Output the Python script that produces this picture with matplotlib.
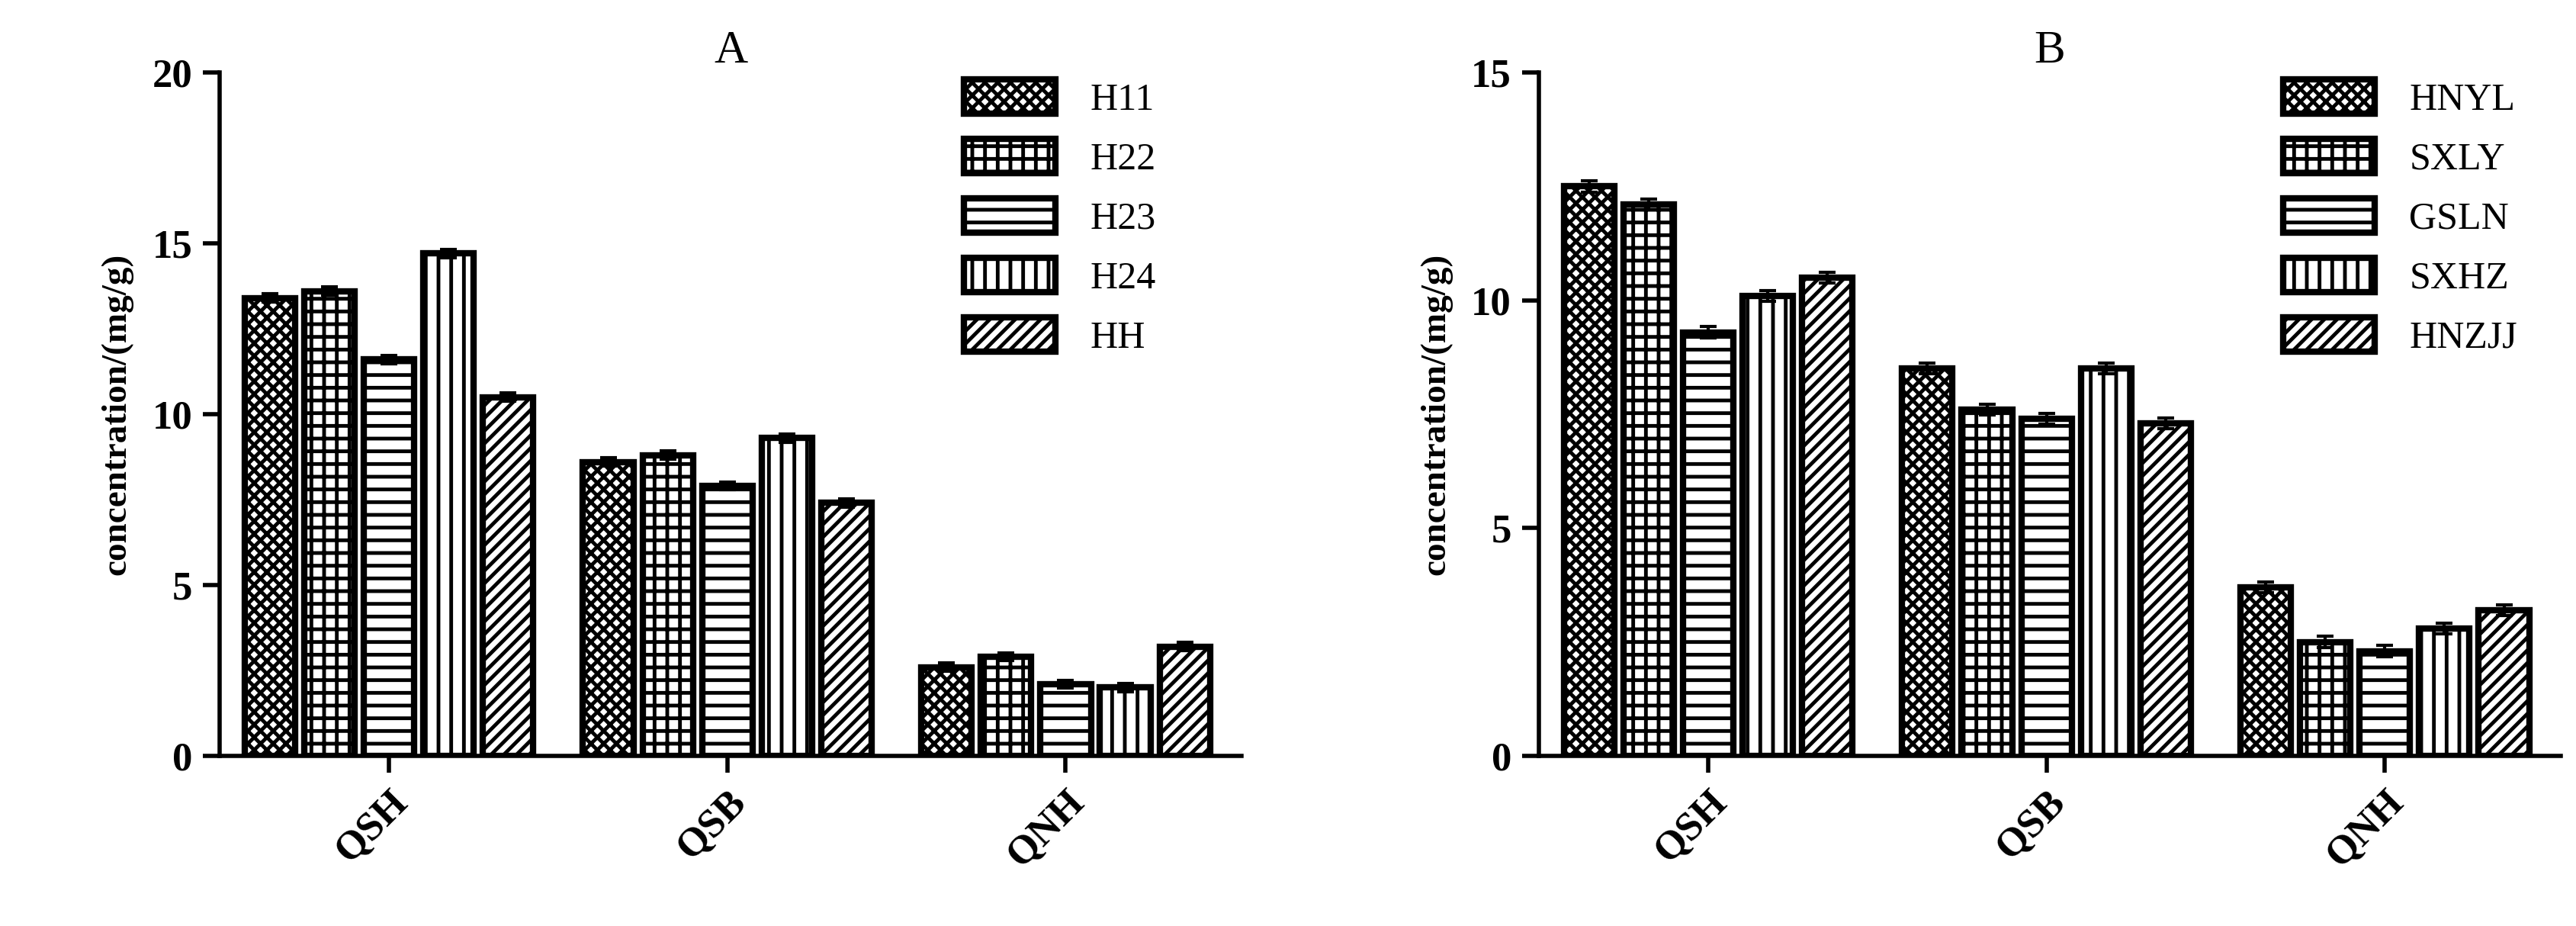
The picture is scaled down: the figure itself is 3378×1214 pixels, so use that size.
import matplotlib.pyplot as plt
import numpy as np

plt.rcParams['font.family'] = ['Liberation Serif', 'DejaVu Serif']
plt.rcParams['hatch.linewidth'] = 3.5

groups = ['QSH', 'QSB', 'QNH']
names_a = ['H11', 'H22', 'H23', 'H24', 'HH']
vals_a = [[13.4, 8.6, 2.6],
          [13.6, 8.8, 2.9],
          [11.6, 7.9, 2.1],
          [14.7, 9.3, 2.0],
          [10.5, 7.4, 3.2]]
names_b = ['HNYL', 'SXLY', 'GSLN', 'SXHZ', 'HNZJJ']
vals_b = [[12.5, 8.5, 3.7],
          [12.1, 7.6, 2.5],
          [9.3, 7.4, 2.3],
          [10.1, 8.5, 2.8],
          [10.5, 7.3, 3.2]]
err = 0.12
hatches = ['xx', '+', '-', '|', '//']

fig = plt.figure(figsize=(33.78, 12.14), dpi=100)


def panel(rect, names, vals, ymax, step, title):
    ax = fig.add_axes(rect)
    x = np.arange(len(groups))
    pitch, w = 0.176, 0.149
    for i, (n, v) in enumerate(zip(names, vals)):
        ax.bar(x + (i - 2) * pitch, v, w, yerr=err, capsize=8,
               error_kw=dict(elinewidth=3, capthick=3, ecolor='black'),
               color='white', edgecolor='black', linewidth=6,
               hatch=hatches[i], label=n)
    ax.set_xlim(-0.5, 2.52)
    ax.set_ylim(0, ymax)
    ax.set_yticks(np.arange(0, ymax + 0.1, step))
    ax.set_xticks(x)
    ax.set_xticklabels(groups, rotation=45, ha='right', rotation_mode='anchor',
                       fontsize=38, fontweight='bold')
    for s in ['top', 'right']:
        ax.spines[s].set_visible(False)
    for s in ['left', 'bottom']:
        ax.spines[s].set_linewidth(4)
    ax.tick_params(axis='both', length=16, width=4, labelsize=38, pad=10)
    for t in ax.get_yticklabels():
        t.set_fontweight('bold')
    ax.set_ylabel('concentration/(mg/g)', fontsize=34, fontweight='bold', labelpad=18)
    ax.set_title(title, fontsize=44, pad=8)
    ax.legend(loc='upper left', bbox_to_anchor=(0.695, 1.04), frameon=False,
              fontsize=36, labelspacing=0.55, handlelength=2.4, handleheight=1.0,
              handletextpad=0.9)
    return ax


panel([0.0853, 0.1837, 0.3967, 0.738], names_a, vals_a, 20, 5, 'A')
panel([0.5974, 0.1837, 0.3967, 0.738], names_b, vals_b, 15, 5, 'B')

fig.savefig('out.png', dpi=100)
